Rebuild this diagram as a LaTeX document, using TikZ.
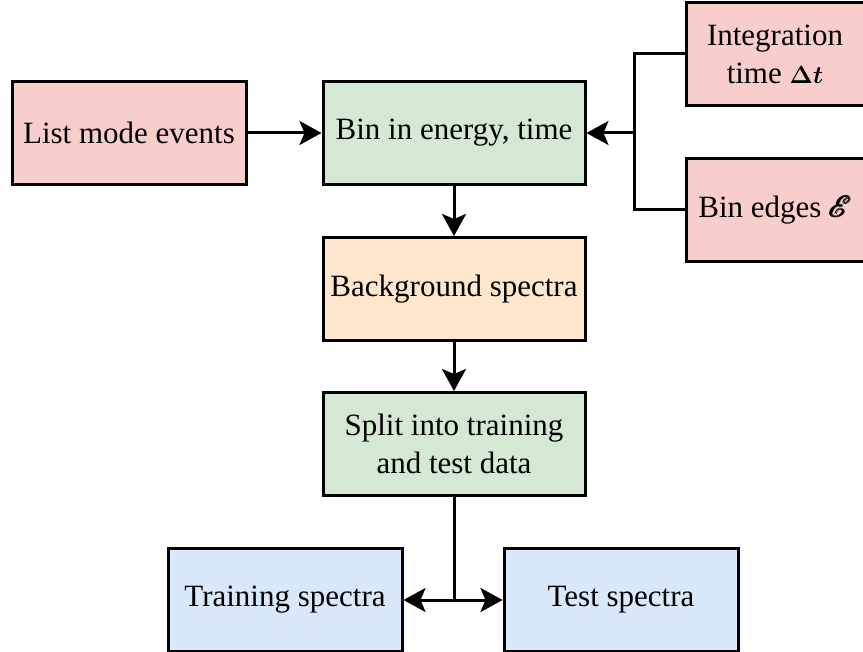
\documentclass[tikz,border=0pt]{standalone}
\usepackage{fontspec}
\setmainfont{Liberation Serif}
\usepackage{amsmath}
\usepackage{mathrsfs}
\usepackage{graphicx}
\usetikzlibrary{arrows.meta,positioning}
\definecolor{redfill}{HTML}{F8CECC}
\definecolor{greenfill}{HTML}{D5E8D4}
\definecolor{orangefill}{HTML}{FFE6CC}
\definecolor{bluefill}{HTML}{DAE8FC}
\tikzset{%
   blk/.style={
      draw=black,
      line width=3pt,
      rectangle,
      minimum height=103pt,
      align=center,
      font=\fontsize{31}{38}\selectfont
   },
   narrow/.style={blk, minimum width=234pt},
   wide/.style={blk, minimum width=262pt},
   side/.style={blk, minimum width=178pt, fill=redfill},
   conn/.style={line width=3pt},
   arr/.style={conn, -{Stealth[length=22pt,width=24pt,inset=5pt]}},
}

\begin{document}
\begin{tikzpicture}[x=1pt, y=-1pt]
   \useasboundingbox (0,0) rectangle (863,652);
   \node[narrow, fill=redfill] (list) at (129,133) {List mode events};
   \node[wide, fill=greenfill] (bin) at (454,133) {Bin in energy, time};
   \node[side] (integ) at (775,54) {Integration\\time $\boldsymbol{\Delta t}$};
   \node[side] (edges) at (775,210) {Bin edges \scalebox{1.2}{$\pmb{\mathscr{E}}$}};
   \node[wide, fill=orangefill] (bg) at (454,289) {Background spectra};
   \node[wide, fill=greenfill] (split) at (454,444) {Split into training\\and test data};
   \node[narrow, fill=bluefill] (train) at (285,600) {Training spectra};
   \node[narrow, fill=bluefill] (test) at (621,600) {Test spectra};
   \coordinate (fork) at (634,133);
   \coordinate (junc) at (454,600);
   \path (list) edge[arr] (bin);
   \path (bin) edge[arr] (bg);
   \path (bg) edge[arr] (split);
   \draw[conn] (integ.west) -| (fork);
   \draw[conn] (edges.west) -| (fork);
   \draw[arr] (fork) -- (bin.east);
   \draw[conn] (split.south) -- (junc);
   \draw[arr] (junc) -- (train.east);
   \draw[arr] (junc) -- (test.west);
\end{tikzpicture}
\end{document}
